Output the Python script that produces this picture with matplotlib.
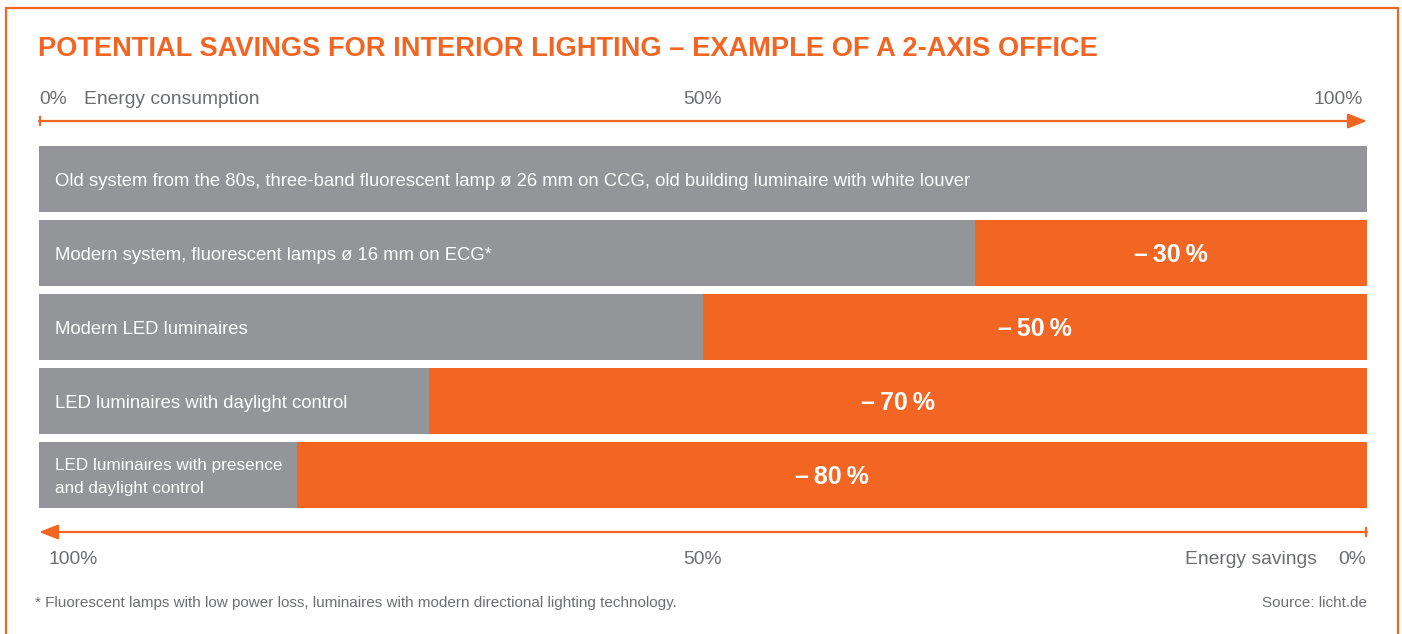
import matplotlib.pyplot as plt
import matplotlib.transforms as mtransforms
from matplotlib.patches import Rectangle

plt.rcParams['font.family'] = ['Liberation Sans', 'DejaVu Sans']

# data
categories = [
    "Old system from the 80s, three-band fluorescent lamp \u00f8 26 mm on CCG, old building luminaire with white louver",
    "Modern system, fluorescent lamps \u00f8 16 mm on ECG*",
    "Modern LED luminaires",
    "LED luminaires with daylight control",
    "LED luminaires with presence\nand daylight control",
]
consumption = [100, 70.5, 50, 29.4, 19.4]
savings = [0, 29.5, 50, 70.6, 80.6]
savings_labels = ["", "\u2013\u200930\u2009%", "\u2013\u200950\u2009%", "\u2013\u200970\u2009%", "\u2013\u200980\u2009%"]

ORANGE = '#f26522'
GRAY = '#939598'
TEXT = '#6d6e71'

W, H = 1402, 634
fig = plt.figure(figsize=(W / 100, H / 100), dpi=100)

# frame round the whole graphic
fig.patches.append(Rectangle((6 / W, -0.1), (1398 - 6) / W, 1.1 - 8 / H, transform=fig.transFigure,
                             fill=False, edgecolor=ORANGE, linewidth=1.6))

x0, x1 = 39 / W, 1367 / W
ax = fig.add_axes([x0, 1 - 512 / H, x1 - x0, 370 / H])
ax.set_xlim(0, 100)
ax.set_ylim(4.5, -0.5)
ax.axis('off')

ypos = range(len(categories))
ax.barh(ypos, consumption, height=0.905, color=GRAY, linewidth=0)
ax.barh(ypos, savings, left=consumption, height=0.905, color=ORANGE, linewidth=0)

for i, (cat, c, s, lab) in enumerate(zip(categories, consumption, savings, savings_labels)):
    two_lines = '\n' in cat
    ax.annotate(cat, xy=(0, i), xytext=(11.5, -1.5), textcoords='offset points',
                ha='left', va='center', color='white',
                fontsize=12.3 if two_lines else 13.3, linespacing=1.62 if two_lines else 1.2)
    if s:
        ax.annotate(lab, xy=(c + s / 2, i), xytext=(0, -1.5), textcoords='offset points',
                    ha='center', va='center', color='white', fontsize=18, fontweight='bold')

# axes arrows in figure height, data width
tr = mtransforms.blended_transform_factory(ax.transData, fig.transFigure)
y_top = 1 - 121 / H
y_bot = 1 - 532 / H
arrow = dict(arrowstyle='-|>,head_length=1.15,head_width=0.45', color=ORANGE, lw=1.6,
             shrinkA=0, shrinkB=0)
ax.annotate('', xy=(100, y_top), xytext=(0, y_top), xycoords=tr, textcoords=tr,
            arrowprops=arrow, annotation_clip=False)
ax.annotate('', xy=(0, y_bot), xytext=(100, y_bot), xycoords=tr, textcoords=tr,
            arrowprops=arrow, annotation_clip=False)
tick = 4 / H
ax.plot([0.07, 0.07], [y_top - tick, y_top + tick], transform=tr, color=ORANGE, lw=1.6, clip_on=False)
ax.plot([99.93, 99.93], [y_bot - tick, y_bot + tick], transform=tr, color=ORANGE, lw=1.6, clip_on=False)

# scale labels
fs = 13.9
yt, yb = 1 - 99.5 / H, 1 - 560 / H
fig.text(39 / W, yt, "0%", color=TEXT, fontsize=fs, ha='left', va='center')
fig.text(84 / W, yt, "Energy consumption", color=TEXT, fontsize=fs, ha='left', va='center')
fig.text(703 / W, yt, "50%", color=TEXT, fontsize=fs, ha='center', va='center')
fig.text(1363 / W, yt, "100%", color=TEXT, fontsize=fs, ha='right', va='center')

fig.text(48 / W, yb, "100%", color=TEXT, fontsize=fs, ha='left', va='center')
fig.text(703 / W, yb, "50%", color=TEXT, fontsize=fs, ha='center', va='center')
fig.text(1366 / W, yb, "0%", color=TEXT, fontsize=fs, ha='right', va='center')
fig.text(1317 / W, yb, "Energy savings", color=TEXT, fontsize=fs, ha='right', va='center')

# title and footer
fig.text(38 / W, 1 - 49 / H, "POTENTIAL SAVINGS FOR INTERIOR LIGHTING \u2013 EXAMPLE OF A 2-AXIS OFFICE",
         color=ORANGE, fontsize=19.6, fontweight='bold', ha='left', va='center')
fig.text(35 / W, 1 - 603 / H,
         "* Fluorescent lamps with low power loss, luminaires with modern directional lighting technology.",
         color=TEXT, fontsize=11, ha='left', va='center')
fig.text(1367 / W, 1 - 603 / H, "Source: licht.de", color=TEXT, fontsize=11, ha='right', va='center')

fig.savefig('out.png', dpi=100, facecolor='white')
